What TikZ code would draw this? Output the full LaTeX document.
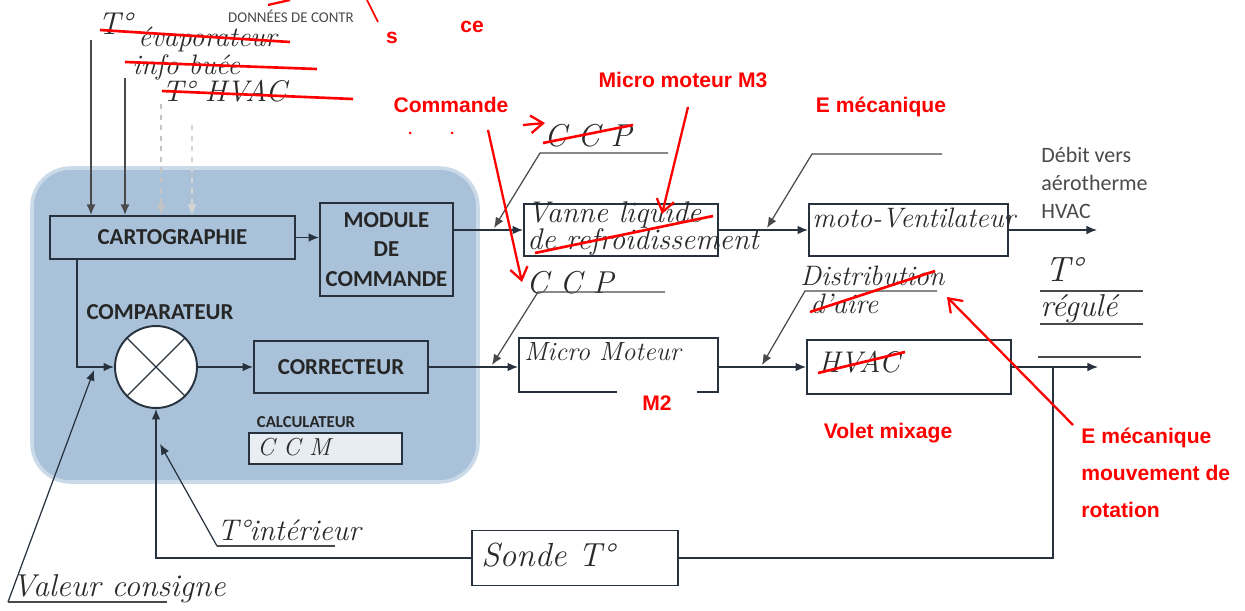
\documentclass[tikz,border=0pt]{standalone}
\usepackage{fontspec}
\newfontfamily\calib{Carlito}
\newfontfamily\arialf{Liberation Sans}
\usetikzlibrary{calc,arrows.meta}
\definecolor{sblue}{HTML}{A9C2DA}
\definecolor{srim}{HTML}{CBDAE8}
\definecolor{sline}{HTML}{27323E}
\definecolor{sred}{HTML}{FF0000}
\definecolor{sgrey}{HTML}{4A4A4A}
\definecolor{slight}{HTML}{C4C4C4}
\definecolor{sccm}{HTML}{E8EDF2}
\definecolor{sink}{HTML}{2A2A2A}

\begin{document}
\begin{tikzpicture}[x=0.02cm,y=-0.02cm,
    BOX/.style={draw=sline,line width=1.1pt,rectangle,inner sep=0pt},
    LBL/.style={font=\calib\bfseries\fontsize{13}{17}\selectfont,text=black!85,align=center},
    HW/.style={font=\itshape\fontsize{17}{17}\selectfont,text=sink,inner sep=0pt},
    RL/.style={font=\arialf\bfseries\fontsize{12}{14}\selectfont,text=sred,inner sep=0pt},
    AR/.style={-{Latex[length=6pt,width=5pt]},line width=0.9pt,draw=sline},
    GL/.style={-{Latex[length=6pt,width=5pt]},line width=0.7pt,draw=sgrey},
    RAR/.style={-{Straight Barb[length=7pt,width=10pt]},line width=1.3pt,draw=sred},
    STRK/.style={draw=sred,line width=1.5pt}]
    \useasboundingbox (0,0) rectangle (1245,611);
    % CALCULATEUR background
    \draw[fill=sblue,draw=srim,line width=2pt,rounded corners=22pt] (32,168) rectangle (478,482);
    % blocks of the calculateur
    \node[BOX,LBL,minimum width=4.9cm,minimum height=0.86cm] (carto) at (172.5,237.5) {CARTOGRAPHIE};
    \node[BOX,LBL,minimum width=2.66cm,minimum height=1.86cm] (module) at (386.5,249.5) {MODULE\\DE\\COMMANDE};
    \node[LBL] (complbl) at (160,312) {COMPARATEUR};
    \node[circle,draw=sline,line width=1.1pt,fill=white,minimum size=1.64cm,inner sep=0pt] (comp) at (156,367) {};
    \draw[sline,line width=0.8pt] (comp.45) -- (comp.225) (comp.135) -- (comp.315);
    \node[BOX,LBL,minimum width=3.48cm,minimum height=1.04cm] (correct) at (341,367) {CORRECTEUR};
    \node[font=\calib\bfseries\fontsize{9.5}{11}\selectfont,text=black!85] (calclbl) at (306,422) {CALCULATEUR};
    \node[BOX,fill=sccm,line width=0.9pt,minimum width=3.06cm,minimum height=0.62cm] (ccm) at (325.5,448.5) {};
    \node[HW,font=\itshape\fontsize{14}{14}\selectfont,anchor=west] (ccmtxt) at (257,447) {C C M};
    % top inputs
    \node[HW,font=\itshape\fontsize{18}{18}\selectfont] (tevap) at (115,24) {T°};
    \node[HW,font=\itshape\fontsize{16}{16}\selectfont,anchor=base west] (evap) at (138,47) {évaporateur};
    \node[HW,font=\itshape\fontsize{16}{16}\selectfont,anchor=base west] (buee) at (132,75) {info buée};
    \node[HW,anchor=base west] (thvac) at (162,102) {T° HVAC};
    \node[font=\calib\fontsize{8.5}{10}\selectfont,text=sgrey] (donnees) at (291,16) {DONNÉES DE CONTR};
    \coordinate (in1) at (91,40);
    \coordinate (in2) at (125,78);
    \coordinate (in3) at (161,104);
    \coordinate (in4) at (192,125);
    \draw[GL] (in1) -- (in1 |- carto.north);
    \draw[GL] (in2) -- (in2 |- carto.north);
    \draw[GL,draw=slight,dashed] (in3) -- (in3 |- carto.north);
    \draw[GL,draw=slight!70,dashed] (in4) -- (in4 |- carto.north);
    % chain blocks
    \node[BOX,minimum width=3.88cm,minimum height=1.04cm] (vanne) at (621,230) {};
    \node[HW,anchor=west] (vannetxt) at (527,215) {Vanne liquide};
    \node[HW,anchor=west] (refroid) at (527,242) {de refroidissement};
    \node[BOX,minimum width=3.98cm,minimum height=1.04cm] (moto) at (908.5,230) {};
    \node[HW,font=\itshape\fontsize{16}{16}\selectfont,anchor=west] (mototxt) at (812,218) {moto-Ventilateur};
    \node[font=\calib\fontsize{12.5}{16}\selectfont,text=sgrey,align=left,anchor=north west,inner sep=0pt] (debit) at (1041,147) {Débit vers\\aérotherme\\HVAC};
    \node[BOX,minimum width=3.98cm,minimum height=1.08cm] (micro) at (618.5,365) {};
    \fill[white] (617,386) rectangle (697,397);
    \node[HW,font=\itshape\fontsize{15}{15}\selectfont,anchor=west] (microtxt) at (524,352) {Micro Moteur};
    \node[BOX,minimum width=4.08cm,minimum height=1.08cm] (hvac) at (909,367) {};
    \node[HW,anchor=west] (hvactxt) at (818,362) {HVAC};
    \node[BOX,minimum width=4.12cm,minimum height=1.1cm] (sonde) at (575,558) {};
    \node[HW,font=\itshape\fontsize{19}{19}\selectfont,anchor=west] (sondetxt) at (481,555) {Sonde T°};
    % labels of the inputs
    \node[HW,font=\itshape\fontsize{18}{18}\selectfont] (ccp1) at (588,136) {C C P};
    \node[HW,font=\itshape\fontsize{18}{18}\selectfont] (ccp2) at (570,283) {C C P};
    \node[HW,font=\itshape\fontsize{16}{16}\selectfont,anchor=base west] (distri) at (800,286) {Distribution};
    \node[HW,font=\itshape\fontsize{16}{16}\selectfont,anchor=base west] (daire) at (810,314) {d'aire};
    \node[HW,font=\itshape\fontsize{20}{20}\selectfont] (treg) at (1064,270) {T°};
    \node[HW,font=\itshape\fontsize{18}{18}\selectfont,anchor=west] (regule) at (1040,309) {régulé};
    \node[HW,font=\itshape\fontsize{17}{17}\selectfont,anchor=base west] (tint) at (217,540) {T°intérieur};
    \node[HW,font=\itshape\fontsize{18}{18}\selectfont,anchor=base west] (valcons) at (12,596) {Valeur consigne};
    % main arrows
    \draw[AR] (carto.east) -- (carto.east -| module.west);
    \draw[AR] (module.east |- vanne.west) -- (vanne.west);
    \draw[AR] (vanne.east) -- (moto.west);
    \coordinate (debitout) at (1097,230);
    \draw[AR] (moto.east) -- (debitout);
    \coordinate (cartoout) at (77,259);
    \draw[AR] (cartoout) |- (comp.west);
    \draw[AR] (comp.east) -- (correct.west);
    \draw[AR] (correct.east) -- (micro.west |- correct.east);
    \draw[AR] (micro.east |- hvac.west) -- (hvac.west);
    \coordinate (tout) at (1098,367);
    \draw[AR] (hvac.east) -- (tout);
    \coordinate (branch) at (1053,367);
    \draw[sline,line width=0.9pt] (branch) |- (sonde.east);
    \draw[AR] (sonde.west) -| (comp.south);
    % side inputs
    \coordinate (ccpa) at (668,153);
    \coordinate (ccpb) at (540,153);
    \coordinate (ccpt) at (494,228);
    \draw[GL] (ccpa) -- (ccpb) -- (ccpt);
    \coordinate (ccpc) at (665,292);
    \coordinate (ccpd) at (538,292);
    \coordinate (ccpu) at (492,365);
    \draw[GL] (ccpc) -- (ccpd) -- (ccpu);
    \coordinate (emea) at (942,154);
    \coordinate (emeb) at (812,154);
    \coordinate (emet) at (767,228);
    \draw[GL] (emea) -- (emeb) -- (emet);
    \coordinate (dista) at (937,291);
    \coordinate (distb) at (805,291);
    \coordinate (distt) at (762,365);
    \draw[GL] (dista) -- (distb) -- (distt);
    \draw[sgrey,line width=0.7pt] (1040,291) -- (1143,291) (1040,324) -- (1143,324) (1038,357) -- (1141,357);
    % consigne and interior temperature
    \coordinate (vc) at (8,602);
    \coordinate (tipv) at (94,370);
    \draw[AR,line width=0.7pt] (vc) -- (tipv);
    \draw[sgrey,line width=0.7pt] (vc) -- (167,602);
    \coordinate (ti) at (217,546);
    \coordinate (tipi) at (160,444);
    \draw[AR,line width=0.7pt] (ti) -- (tipi);
    \draw[sgrey,line width=0.7pt] (ti) -- (335,546);
    % red notes
    \node[RL] (commande) at (451,105) {Commande};
    \node[RL] (m3) at (683,80) {Micro moteur M3};
    \node[RL] (emeca) at (881,107) {E mécanique};
    \node[RL] (m2) at (657,403) {M2};
    \node[RL] (volet) at (888,433) {Volet mixage};
    \node[RL,font=\arialf\bfseries\fontsize{12}{21}\selectfont,align=left,anchor=north west] (emrot) at (1081,428) {E mécanique\\mouvement de\\rotation};
    \node[RL] (rs) at (392,38) {s};
    \node[RL] (rce) at (472,27) {ce};
    \coordinate (cma) at (488,130);
    \coordinate (cmb) at (522,282);
    \draw[RAR] (cma) -- (cmb);
    \coordinate (cmc) at (523,125);
    \coordinate (cmd) at (545,123);
    \draw[RAR] (cmc) -- (cmd);
    \coordinate (m3a) at (688,107);
    \coordinate (m3b) at (662,214);
    \draw[RAR] (m3a) -- (m3b);
    \coordinate (rota) at (1073,425);
    \coordinate (rotb) at (947,297);
    \draw[RAR] (rota) -- (rotb);
    \fill[sred] (410,133) circle (1.5) (452,133) circle (1.5);
    \draw[sred,line width=1.3pt] (268,5) -- (290,0);
    \draw[sred,line width=0.9pt] (367,0) -- (378,22);
    % strikes
    \draw[STRK] (100,30) -- (290,42);
    \draw[STRK] (125,62) -- (317,69);
    \draw[STRK] (162,91) -- (353,99);
    \draw[STRK] (543,143) -- (633,125);
    \draw[STRK] (535,253) -- (713,216);
    \draw[STRK] (810,312) -- (935,271);
    \draw[STRK] (818,373) -- (905,352);
\end{tikzpicture}
\end{document}
